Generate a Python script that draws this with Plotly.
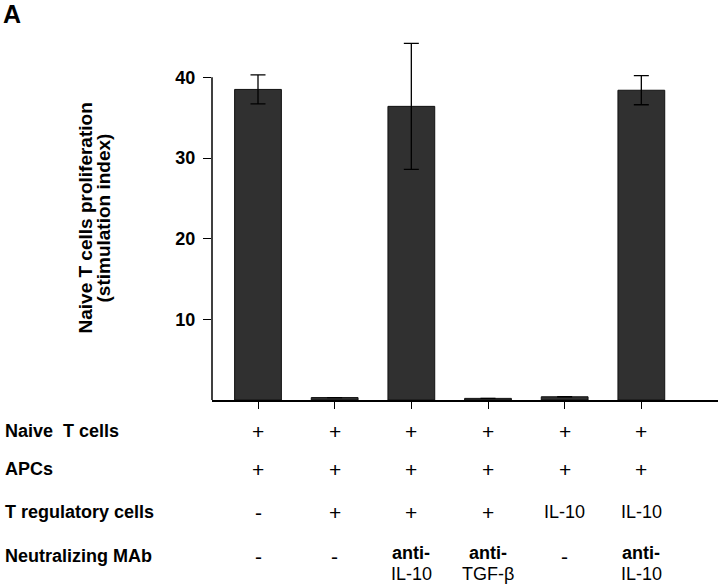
import plotly.graph_objects as go

# bar data (stimulation index)
groups = ["g1", "g2", "g3", "g4", "g5", "g6"]
means = [38.5, 0.3, 36.4, 0.2, 0.4, 38.4]
errs = [1.8, 0, 7.8, 0, 0, 1.8]

# condition table below the bars
row_names = ["Naive  T cells", "APCs", "T regulatory cells", "Neutralizing MAb"]
naive_t = ["+", "+", "+", "+", "+", "+"]
apcs = ["+", "+", "+", "+", "+", "+"]
treg = ["-", "+", "+", "+", "IL-10", "IL-10"]
mab = ["-", "-", "<b>anti-</b><br>IL-10", "<b>anti-</b><br>TGF-β", "-", "<b>anti-</b><br>IL-10"]
table_rows = [naive_t, apcs, treg, mab]

y_ticks = [10, 20, 30, 40]

FONT = "Arial, Liberation Sans, sans-serif"

# plot area in page pixels
PL, PR, PT, PB = 212, 718, 37, 400
W, H = 720, 585


def px(xp):
    return (xp - PL) / (PR - PL)


def py(yp):
    return (PB - yp) / (PB - PT)


fig = go.Figure()
fig.add_trace(go.Bar(
    x=groups, y=means,
    width=0.61,
    marker=dict(color="#303030", line=dict(color="#111", width=1)),
    error_y=dict(type="data", array=errs, visible=True, color="black",
                 thickness=1.3, width=7.5),
    showlegend=False,
))

# y axis line stops at 40 like the original
fig.add_shape(type="line", xref="paper", yref="y", x0=0, x1=0, y0=0, y1=max(y_ticks),
              line=dict(color="black", width=1.5))

# table annotations
row_y = [431, 469, 512, 556]
for name, vals, ry in zip(row_names, table_rows, row_y):
    fig.add_annotation(x=px(3), xref="paper", y=py(ry), yref="paper", yanchor="middle",
                       xanchor="left", text=name, showarrow=False,
                       font=dict(size=18, color="black", family=FONT, weight="bold"))
    for g, v in zip(groups, vals):
        lines = v.split("<br>")
        if len(lines) == 2:
            ys = [ry - 3, ry + 18]
        else:
            ys = [ry]
        for t, yy in zip(lines, ys):
            size = 21 if t in ("+", "-") else 18
            fig.add_annotation(x=g, xref="x", y=py(yy), yref="paper", yanchor="middle",
                               text=t, showarrow=False,
                               font=dict(size=size, color="black", family=FONT))

fig.add_annotation(x=px(1), y=py(-2), xref="paper", yref="paper", xanchor="left",
                   yanchor="top", text="A", showarrow=False,
                   font=dict(size=25, color="black", family=FONT, weight="bold"))
# two-line y title, placed line by line for tighter spacing
for txt, xx in [("Naive T cells proliferation", 72), ("(stimulation index)", 90)]:
    fig.add_annotation(x=px(xx), y=py(218), xref="paper", yref="paper",
                       text=txt, textangle=-90, showarrow=False,
                       font=dict(size=19, color="black", family=FONT, weight="bold"))

fig.update_xaxes(type="category", range=[-0.6, 6.0], showline=True, linecolor="black",
                 linewidth=1.5, ticks="outside", ticklen=7, tickcolor="black",
                 showticklabels=False, showgrid=False, zeroline=False)
fig.update_yaxes(range=[0, 45], tickvals=y_ticks, ticks="outside", ticklen=8,
                 tickcolor="black", showline=False, showgrid=False, zeroline=False,
                 ticklabelstandoff=4,
                 tickfont=dict(size=18, color="black", family=FONT, weight="bold"))

fig.update_layout(
    width=W, height=H,
    margin=dict(l=PL, r=W - PR, t=PT, b=H - PB),
    plot_bgcolor="white", paper_bgcolor="white",
    font=dict(family=FONT, color="black"),
)

# drop the browser's default body margin so the page matches the figure
fig.write_html("out.html", config={"displayModeBar": False},
               post_script="document.body.style.margin='0';")
